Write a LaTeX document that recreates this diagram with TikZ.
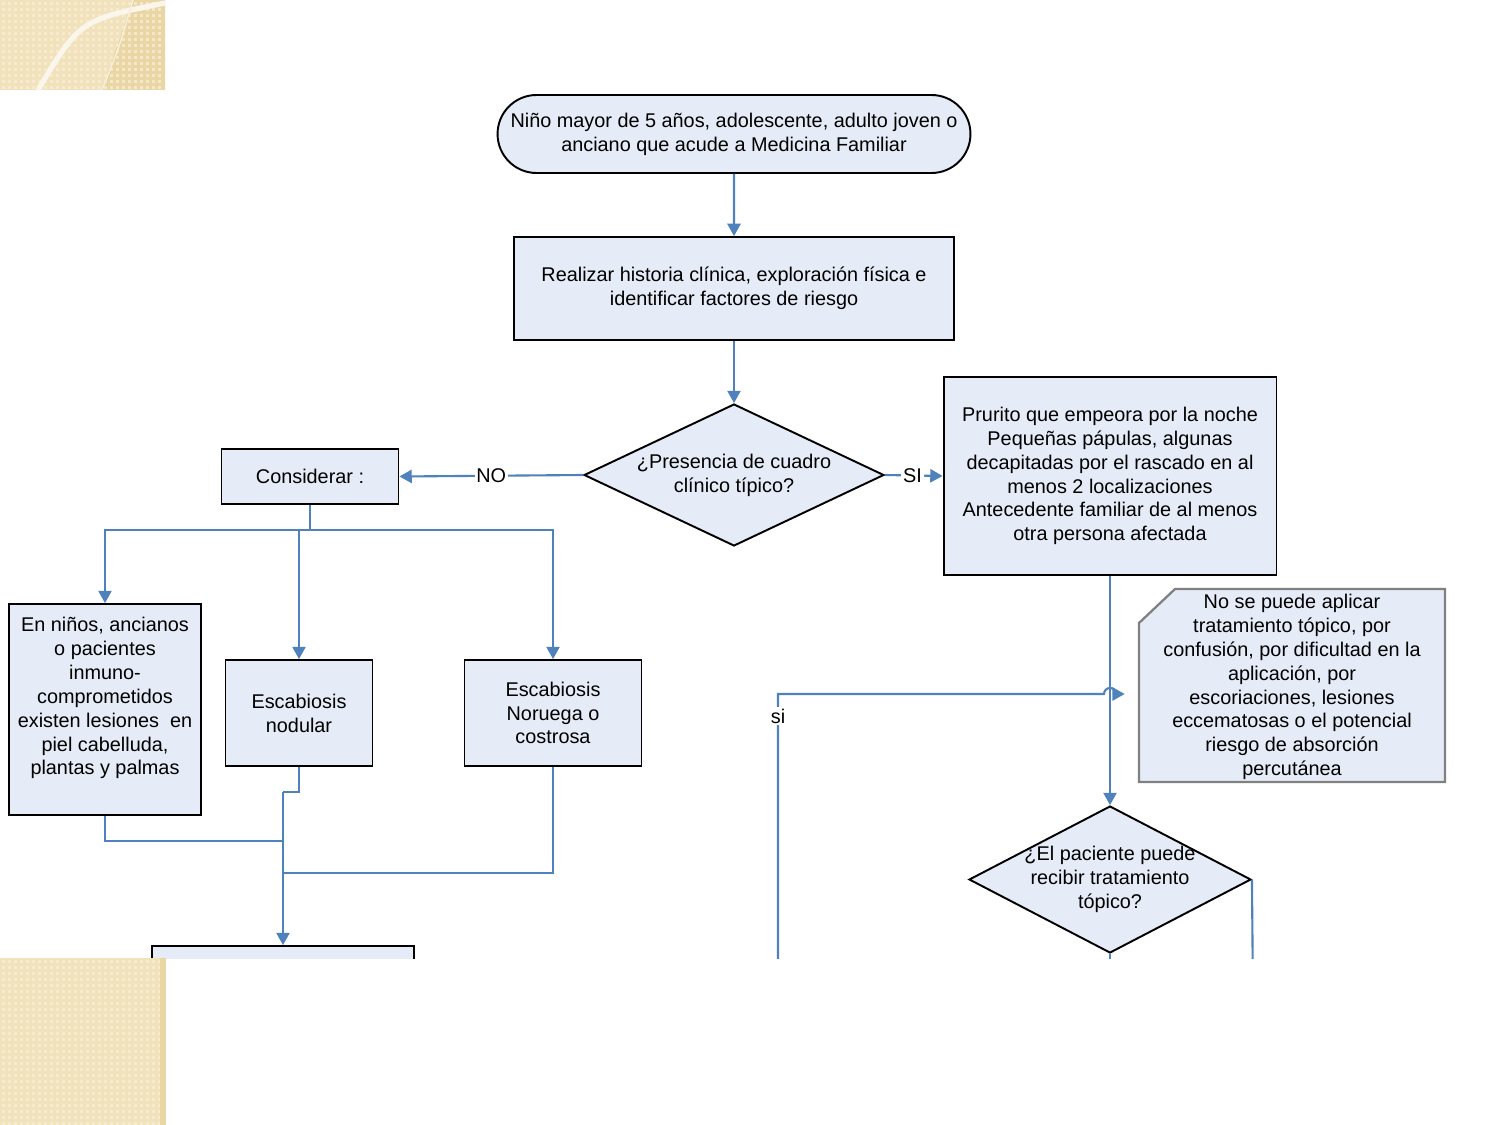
\documentclass[tikz,border=0pt]{standalone}
\usepackage{fontspec}
\setmainfont{Liberation Sans}
\usetikzlibrary{shapes.geometric,shapes.misc,arrows.meta}
\definecolor{fillblue}{RGB}{230,236,247}
\definecolor{lineblue}{RGB}{79,129,189}
\definecolor{notegray}{RGB}{128,128,128}
\definecolor{beige}{RGB}{241,226,188}
\definecolor{beigelight}{RGB}{248,240,218}
\definecolor{beigedark}{RGB}{234,214,165}
\begin{document}
\begin{tikzpicture}[x=0.02cm,y=-0.02cm,
  every node/.style={font=\fontsize{11.3}{13.6}\selectfont, align=center, inner sep=0pt, text=black},
  box/.style={draw=black, line width=1.1pt, fill=fillblue, rectangle},
  term/.style={draw=black, line width=1.1pt, fill=fillblue, rounded rectangle},
  decis/.style={draw=black, line width=1.1pt, fill=fillblue, diamond},
  noteshape/.style={draw=notegray, line width=1.3pt, fill=fillblue},
  conn/.style={draw=lineblue, line width=1.2pt},
  arr/.style={conn, -{Triangle[length=7pt,width=7.5pt]}},
  lbl/.style={fill=white, inner sep=1pt}
]
\useasboundingbox (0,0) rectangle (1500,1125);
\fill[white] (0,0) rectangle (1500,1125);

\begin{scope}
\clip (0,0) rectangle (1500,958);
% note shape (chamfered corner)
\filldraw[noteshape] (1175,589) -- (1445,589) -- (1445,782) -- (1139,782) -- (1139,623) -- cycle;
% nodes
\node[term, minimum width=9.46cm, minimum height=1.56cm] (start) at (734,134)
  {Niño mayor de 5 años, adolescente, adulto joven o\\anciano que acude a Medicina Familiar};
\node[box, minimum width=8.8cm, minimum height=2.06cm] (hist) at (734,288.5)
  {Realizar historia clínica, exploración física e\\identificar factores de riesgo};
\node[decis, minimum width=6cm, minimum height=2.84cm,
  label={[align=center]center:¿Presencia de cuadro\\clínico típico?}] (d1) at (734,475) {};
\node[box, minimum width=3.54cm, minimum height=1.1cm] (cons) at (310,476.5) {Considerar :};
\node[box, minimum width=6.66cm, minimum height=3.96cm] (pru) at (1110,476)
  {Prurito que empeora por la noche\\Pequeñas pápulas, algunas\\decapitadas por el rascado en al\\menos 2 localizaciones\\Antecedente familiar de al menos\\otra persona afectada};
\node[box, minimum width=3.84cm, minimum height=4.22cm,
  label={[align=center, yshift=6.5pt]center:En niños, ancianos\\o pacientes\\inmuno-\\comprometidos\\existen lesiones\ \ en\\piel cabelluda,\\plantas y palmas}] (left) at (105,709.5) {};
\node[box, minimum width=2.94cm, minimum height=2.12cm] (nod) at (299,713) {Escabiosis\\nodular};
\node[box, minimum width=3.54cm, minimum height=2.12cm] (nor) at (553,713) {Escabiosis\\Noruega o\\costrosa};
\node[minimum width=6.12cm, minimum height=3.86cm] (note) at (1292,687)
  {No se puede aplicar\\tratamiento tópico, por\\confusión, por dificultad en la\\aplicación, por\\escoriaciones, lesiones\\eccematosas o el potencial\\riesgo de absorción\\percutánea};
\node[decis, minimum width=5.64cm, minimum height=2.94cm,
  label={[align=center]center:¿El paciente puede\\recibir tratamiento\\tópico?}] (d2) at (1110,879.5) {};
\node[box, minimum width=5.24cm, minimum height=2cm] (bot) at (283,996) {};

% coordinates
\coordinate (bus) at (310,530);
\coordinate (m0) at (283,792);
\coordinate (m1) at (283,841);
\coordinate (m2) at (283,873);
\coordinate (sitop) at (778,694);
\coordinate (sibot) at (778,1000);
\coordinate (d2e) at (1253,1000);
\coordinate (d2s) at (1110,1000);

% connectors
\draw[arr] (start) -- (hist);
\draw[arr] (hist) -- (d1);
\draw[arr] (d1.west) -- node[lbl, pos=0.5] {NO} (cons.east);
\draw[arr] (d1.east) -- node[lbl, pos=0.48] {SI} (pru.west);
\draw[conn] (cons.south) -- (bus);
\draw[arr] (bus) -| (left.north);
\draw[arr] (bus) -| (nod.north);
\draw[arr] (bus) -| (nor.north);
\draw[conn] (nod.south) |- (m0);
\draw[conn] (left.south) |- (m1);
\draw[conn] (nor.south) |- (m2);
\draw[arr] (m0) -- (bot.north);
\draw[arr] (pru.south) -- (d2.north);
\draw[conn] (d2.east) -- (d2e);
\draw[conn] (d2.south) -- (d2s);
\draw[arr] (sibot) -- (sitop) -- (1104,694) arc[start angle=180, end angle=360, radius=6]
  -- ([xshift=-0.28cm]sitop -| note.west);
\node[lbl] (si) at (778,716) {si};
\end{scope}

% decorations
\fill[beige] (0,0) rectangle (165,90);
\fill[beigedark] (133,0) .. controls (118,45) .. (102,90) -- (165,90) -- (165,0) -- cycle;
\foreach \x in {2,8,...,160} \foreach \y in {2,8,...,86}
  \fill[beigelight, opacity=0.7] (\x,\y) rectangle ++(3,3);
\draw[white!70!beige, line width=3pt] (38,90) .. controls (80,20) .. (165,3);
\draw[white!60!beigedark, line width=0.8pt] (102,90) .. controls (120,45) .. (133,0);

\fill[beige] (0,958) rectangle (163,1125);
\foreach \x in {2,8,...,158} \foreach \y in {960,966,...,1122}
  \fill[beigelight, opacity=0.7] (\x,\y) rectangle ++(3,3);
\fill[beigedark] (160,958) rectangle (166,1125);
\end{tikzpicture}
\end{document}
